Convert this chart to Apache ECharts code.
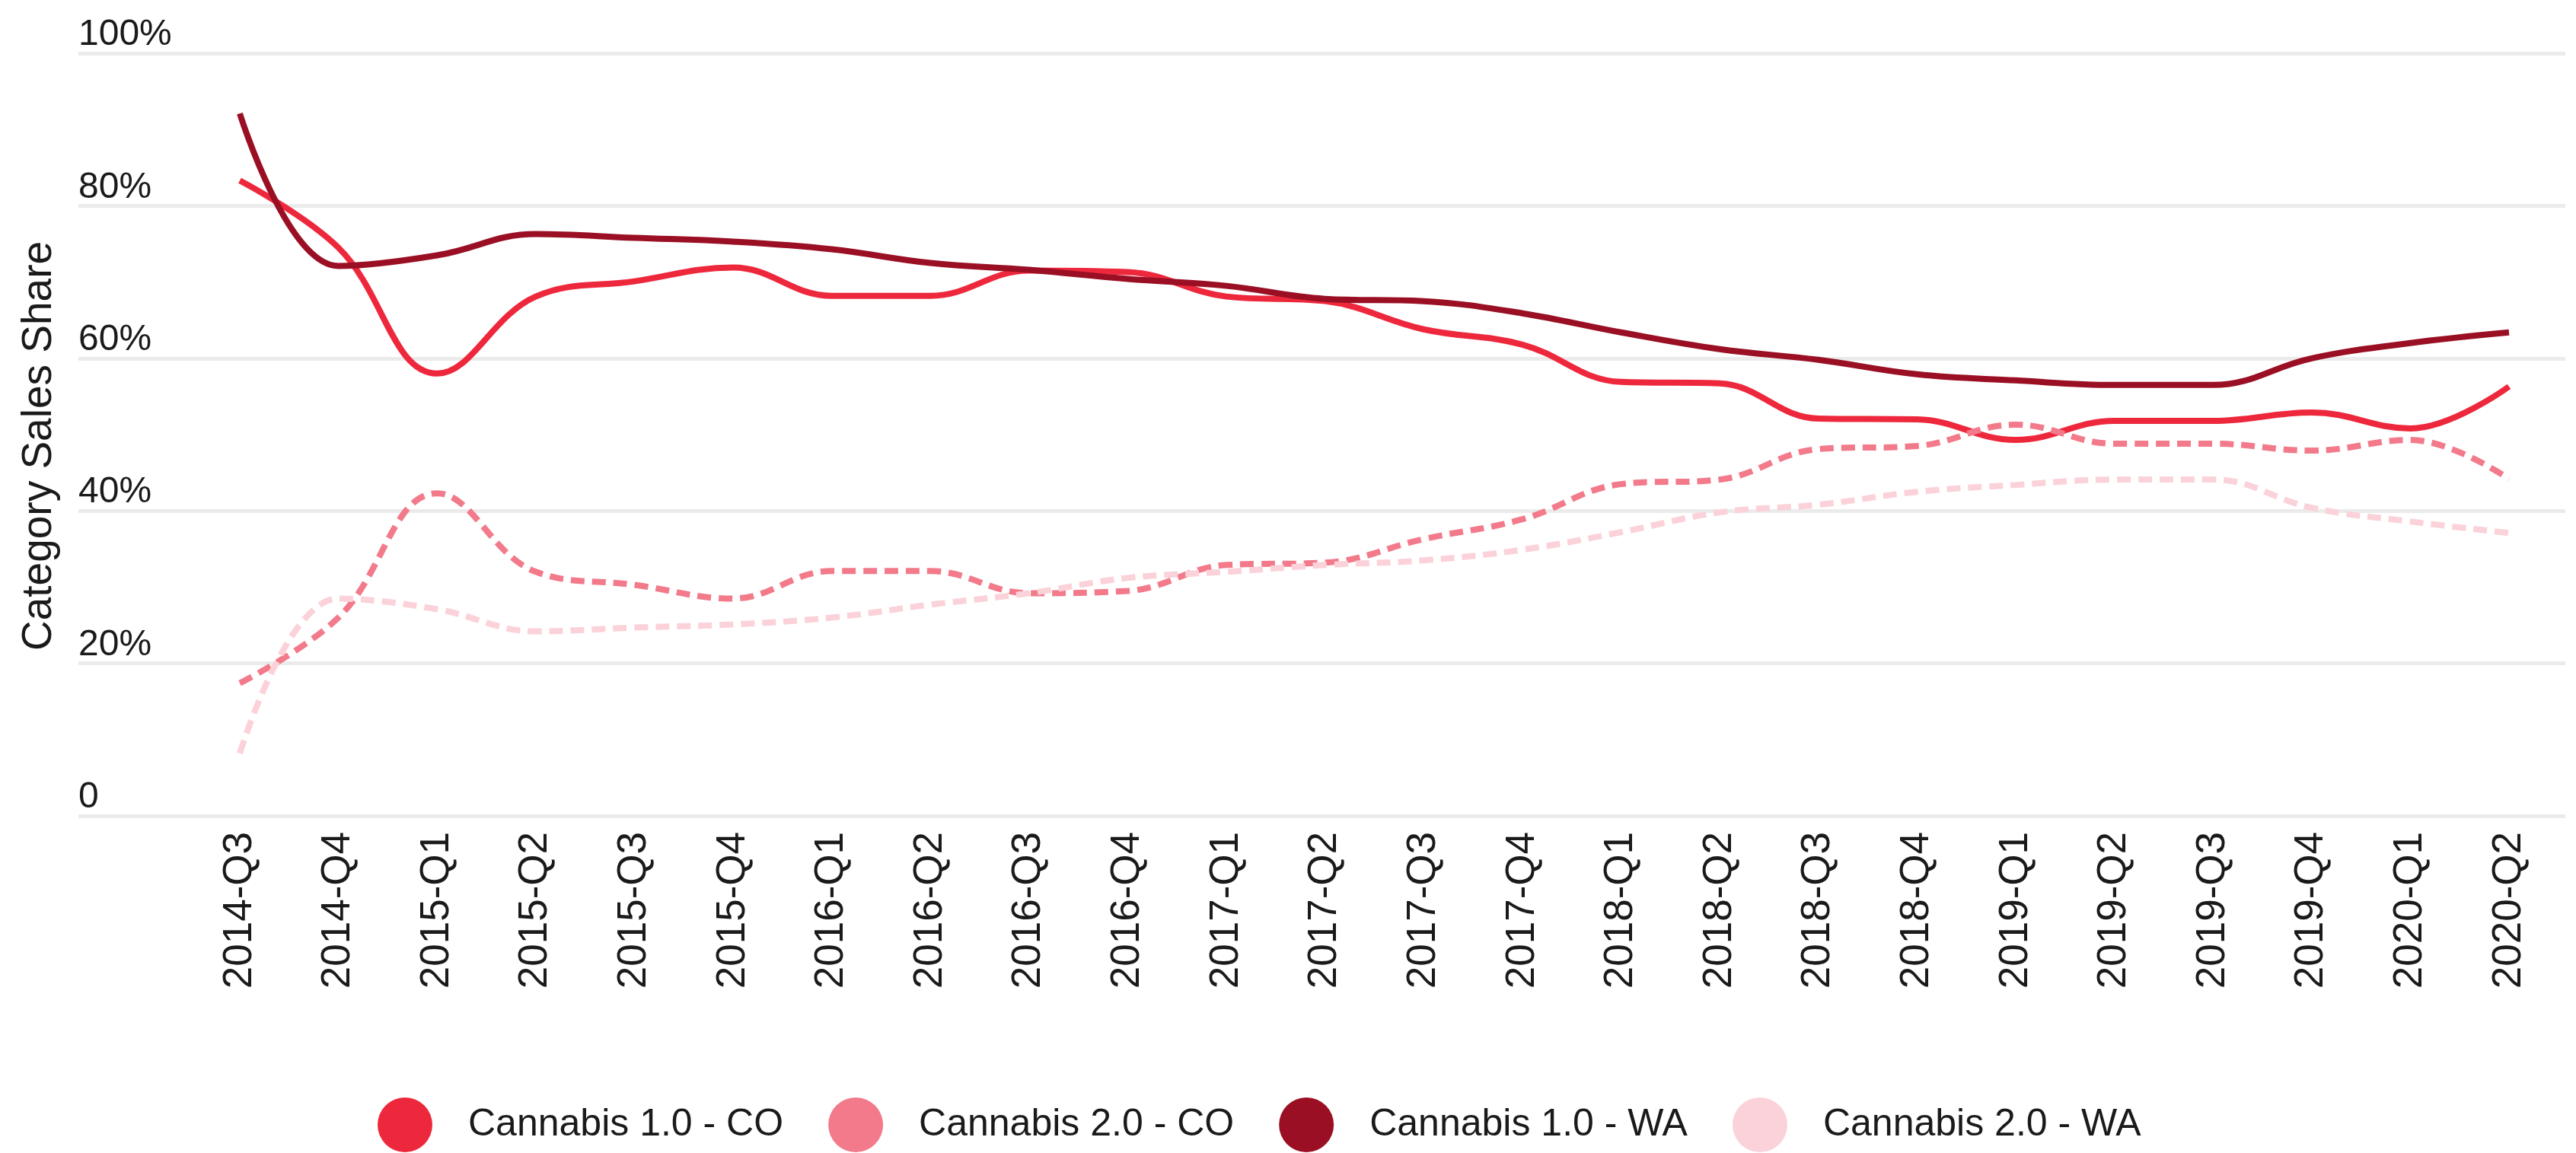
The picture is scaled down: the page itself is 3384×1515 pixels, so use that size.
<!DOCTYPE html>
<html>
<head>
<meta charset="utf-8">
<script src="https://cdn.jsdelivr.net/npm/echarts@6/dist/echarts.min.js"></script>
<style>
  html, body { margin: 0; padding: 0; background: #fff; }
  #chart { width: 3384px; height: 1515px; }
</style>
</head>
<body>
<div id="chart"></div>
<script>
// quarters on the x axis
const quarters = ['2014-Q3', '2014-Q4', '2015-Q1', '2015-Q2', '2015-Q3', '2015-Q4',
  '2016-Q1', '2016-Q2', '2016-Q3', '2016-Q4', '2017-Q1', '2017-Q2', '2017-Q3', '2017-Q4',
  '2018-Q1', '2018-Q2', '2018-Q3', '2018-Q4', '2019-Q1', '2019-Q2', '2019-Q3', '2019-Q4',
  '2020-Q1', '2020-Q2']

// category sales share, %
const co10 = [83.3, 74.5, 58.0, 68.1, 70.1, 71.9, 68.2, 68.2, 71.5, 71.3, 68.1, 67.5,
  63.8, 61.8, 56.9, 56.7, 52.1, 52.0, 49.3, 51.8, 51.8, 52.9, 50.8, 56.3]
const co20 = [17.4, 26.0, 42.3, 32.0, 30.3, 28.5, 32.1, 32.1, 29.2, 29.5, 32.9, 33.2,
  36.3, 38.9, 43.5, 44.1, 48.1, 48.5, 51.3, 48.8, 48.8, 47.9, 49.3, 44.2]
const wa10 = [92.1, 72.1, 73.5, 76.3, 75.8, 75.3, 74.3, 72.5, 71.6, 70.4, 69.5, 67.8,
  67.5, 65.9, 63.4, 61.2, 59.8, 57.9, 57.1, 56.5, 56.5, 60.0, 62.0, 63.4]
const wa20 = [8.2, 28.5, 27.1, 24.2, 24.7, 25.1, 26.0, 27.7, 29.2, 31.2, 32.0, 32.9,
  33.5, 34.9, 37.2, 39.8, 40.8, 42.5, 43.4, 44.1, 44.1, 40.4, 38.6, 37.1]

const yTicks = [0, 20, 40, 60, 80, 100]

const colors = {
  co10: '#EE283C',
  co20: '#F27A8A',
  wa10: '#9A0F24',
  wa20: '#FBD2D9'
}

const plainFont = '"Liberation Sans", Arial, sans-serif'

function lineSeries(name, data, color, dashed) {
  return {
    name: name,
    type: 'line',
    xAxisIndex: 0,
    yAxisIndex: 0,
    data: data,
    smooth: 0.4,
    symbol: 'none',
    animation: false,
    itemStyle: {color: color},
    lineStyle: {
      color: color,
      width: 8,
      type: dashed ? [18, 10] : 'solid',
      cap: 'butt'
    }
  }
}

const chart = echarts.init(document.getElementById('chart'))
chart.setOption({
  backgroundColor: '#fff',
  animation: false,
  grid: [
    // data area
    {left: 315, right: 88, top: 70, bottom: 443},
    // wider area carrying the gridlines and % labels
    {left: 103, right: 14, top: 70, bottom: 443}
  ],
  legend: {
    left: 496,
    top: 1442,
    padding: 0,
    icon: 'circle',
    itemWidth: 156,
    itemHeight: 72,
    itemGap: 59,
    textStyle: {fontFamily: plainFont, fontSize: 50, color: '#1a1a1a'},
    data: ['Cannabis 1.0 - CO', 'Cannabis 2.0 - CO', 'Cannabis 1.0 - WA', 'Cannabis 2.0 - WA']
  },
  xAxis: [
    {
      type: 'category',
      gridIndex: 0,
      data: quarters,
      boundaryGap: false,
      axisLine: {show: false},
      axisTick: {show: false},
      splitLine: {show: false},
      axisLabel: {
        rotate: 90,
        margin: 21,
        interval: 0,
        fontFamily: plainFont,
        fontSize: 53,
        color: '#1a1a1a'
      }
    },
    {
      type: 'value',
      gridIndex: 1,
      show: false
    }
  ],
  yAxis: [
    {
      type: 'value',
      gridIndex: 0,
      min: 0,
      max: 100,
      interval: 20,
      show: false
    },
    {
      type: 'value',
      gridIndex: 1,
      min: yTicks[0],
      max: yTicks[yTicks.length - 1],
      interval: 20,
      name: 'Category Sales Share',
      nameLocation: 'middle',
      nameRotate: 90,
      nameGap: 24,
      nameTextStyle: {fontFamily: plainFont, fontSize: 55, color: '#1a1a1a', padding: [0, 30, 0, 0]},
      axisLine: {show: false},
      axisTick: {show: false},
      splitLine: {lineStyle: {color: '#EBEBEB', width: 5}},
      axisLabel: {
        inside: true,
        margin: 0,
        verticalAlign: 'bottom',
        fontFamily: plainFont,
        fontSize: 48,
        color: '#1a1a1a',
        formatter: v => (v === 0 ? '0' : v + '%')
      }
    }
  ],
  series: [
    lineSeries('Cannabis 1.0 - CO', co10, colors.co10, false),
    lineSeries('Cannabis 2.0 - CO', co20, colors.co20, true),
    lineSeries('Cannabis 1.0 - WA', wa10, colors.wa10, false),
    lineSeries('Cannabis 2.0 - WA', wa20, colors.wa20, true)
  ]
})
</script>
</body>
</html>
